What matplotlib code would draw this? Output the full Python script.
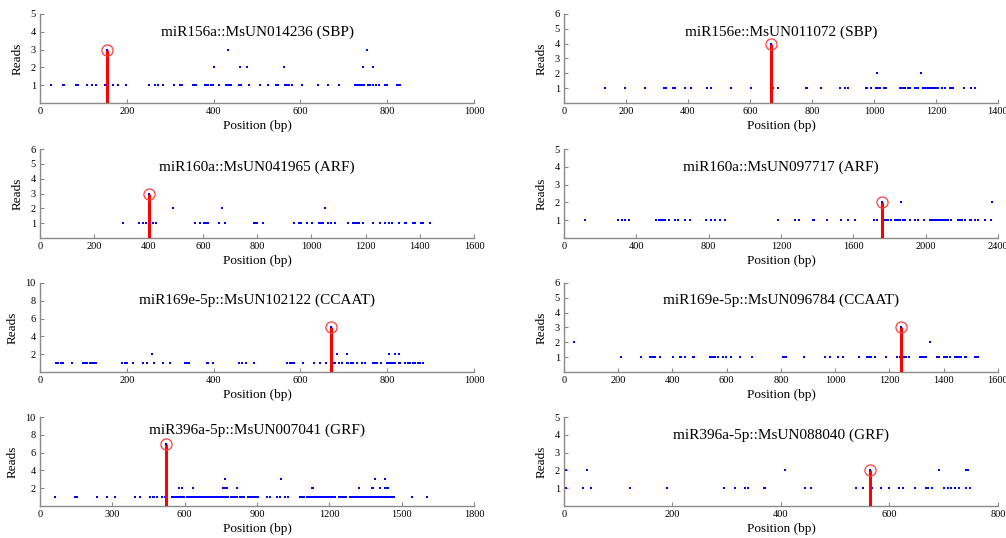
import matplotlib
matplotlib.use("Agg")
import matplotlib.pyplot as plt

plt.rcParams['font.family'] = ['Liberation Serif', 'DejaVu Serif']

# ---------------- data ----------------
titles = ["miR156a::MsUN014236 (SBP)", "miR156e::MsUN011072 (SBP)",
          "miR160a::MsUN041965 (ARF)", "miR160a::MsUN097717 (ARF)",
          "miR169e-5p::MsUN102122 (CCAAT)", "miR169e-5p::MsUN096784 (CCAAT)",
          "miR396a-5p::MsUN007041 (GRF)", "miR396a-5p::MsUN088040 (GRF)"]

# cleavage site (position, reads)
site_pos = [155, 669, 400, 1758, 670, 1244, 523, 565]
site_reads = [3, 4, 3, 2, 5, 3, 7, 2]

xmax = [1000, 1400, 1600, 2400, 1000, 1600, 1800, 800]
xstep = [200, 200, 200, 400, 200, 200, 300, 200]
ymax = [5, 6, 6, 5, 10, 6, 10, 5]
ystep = [1, 1, 1, 1, 2, 1, 2, 1]

# panel 1
p1_r1 = [25, 52, 56, 83, 87, 108, 119, 128, 150, 167, 179, 199, 251, 264, 271, 284,
         309, 323, 328, 352, 356, 360, 380, 384, 388, 393, 399, 412, 429, 432, 436,
         440, 459, 462, 481, 506, 526, 543, 548, 565, 569, 573, 580, 604, 641, 664,
         689, 726, 730, 733, 737, 743, 746, 755, 760, 767, 774, 781, 796, 799, 823,
         827, 829]
p1_r2 = [401, 461, 478, 561, 745, 767]
p1_r3 = [434, 754]

# panel 2
p2_r1 = [133, 198, 260, 323, 328, 352, 358, 389, 411, 461, 475, 540, 604, 675, 690,
         780, 785, 830, 892, 905, 916, 973, 978, 991, 1008, 1013, 1018, 1034, 1040,
         1083, 1088, 1094, 1099, 1110, 1115, 1131, 1137, 1142, 1158, 1163, 1169, 1174,
         1180, 1185, 1190, 1196, 1201, 1206, 1219, 1228, 1244, 1249, 1255, 1290, 1312,
         1327]
p2_r2 = [1010, 1151]

# panel 3
p3_r1 = [307, 365, 381, 389, 418, 428, 571, 590, 604, 612, 620, 660, 682, 789, 796,
         801, 821, 936, 955, 962, 983, 1001, 1029, 1034, 1042, 1063, 1071, 1087, 1136,
         1155, 1161, 1167, 1177, 1192, 1226, 1253, 1271, 1287, 1296, 1324, 1345, 1351,
         1376, 1382, 1403, 1413, 1437]
p3_r2 = [489, 670, 1050]

# panel 4
p4_r1 = [114, 299, 321, 339, 359, 511, 524, 535, 547, 557, 579, 612, 630, 667, 695,
         783, 811, 837, 861, 888, 1183, 1276, 1298, 1377, 1382, 1456, 1534, 1571, 1608,
         1714, 1733, 1770, 1782, 1792, 1810, 1829, 1838, 1847, 1856, 1875, 1884, 1911,
         1939, 1958, 1991, 2022, 2031, 2041, 2050, 2059, 2068, 2077, 2087, 2096, 2105,
         2114, 2124, 2142, 2179, 2188, 2201, 2216, 2243, 2253, 2271, 2289, 2330, 2363]
p4_r2 = [1864, 2367]

# panel 5
p5_r1 = [37, 42, 48, 52, 73, 98, 104, 109, 114, 119, 124, 129, 190, 196, 201, 214,
         237, 246, 263, 284, 300, 334, 338, 344, 384, 388, 399, 459, 465, 475, 493,
         570, 575, 580, 585, 605, 632, 644, 659, 674, 680, 690, 695, 707, 710, 716,
         720, 730, 741, 749, 768, 772, 776, 785, 799, 805, 808, 814, 818, 826, 829,
         841, 849, 853, 860, 864, 872, 876, 883]
p5_r2 = [257, 684, 707, 803, 818, 826]

# panel 6
p6_r1 = [211, 285, 316, 322, 328, 337, 353, 402, 426, 433, 445, 476, 479, 537, 543,
         549, 555, 568, 586, 598, 617, 648, 693, 807, 814, 820, 885, 961, 979, 1010,
         1029, 1088, 1118, 1123, 1131, 1148, 1186, 1229, 1238, 1253, 1262, 1271, 1311,
         1317, 1323, 1330, 1336, 1376, 1381, 1401, 1406, 1413, 1422, 1440, 1446, 1453,
         1459, 1465, 1477, 1483, 1514, 1520, 1526]
p6_r2 = [37, 1351]

# panel 7
p7_r1 = [62, 145, 152, 238, 279, 311, 394, 415, 456, 467, 473, 484, 505, 518,
         548, 556, 563, 571, 580, 588, 596, 609, 617, 624, 632, 640, 647, 655, 663,
         670, 678, 686, 693, 701, 709, 716, 724, 732, 739, 747, 755, 762, 770, 778,
         793, 801, 808, 816, 831, 839, 847, 862, 870, 878, 886, 894, 902,
         940, 954, 981, 995, 1016, 1030,
         1078, 1086, 1094, 1109, 1117, 1124, 1132, 1140, 1147, 1155, 1163, 1170, 1178,
         1186, 1193, 1201, 1209, 1216, 1224, 1239, 1247, 1255, 1262, 1270, 1285, 1293,
         1301, 1308, 1316, 1324, 1331, 1339, 1347, 1354, 1362, 1370, 1377, 1385, 1393,
         1400, 1408, 1416, 1423, 1431, 1439, 1446, 1454, 1462, 1470, 1541, 1603]
p7_r2 = [577, 588, 636, 760, 767, 774, 816, 1127, 1134, 1324, 1376, 1383, 1410, 1431,
         1438, 1445]
p7_r3 = [767, 1000, 1390, 1431]

# panel 8
p8_r1 = [3, 35, 49, 121, 190, 295, 316, 333, 339, 369, 371, 444, 455, 539, 552, 567,
         584, 600, 617, 625, 648, 668, 671, 678, 700, 708, 714, 720, 729, 742, 748]
p8_r2 = [3, 43, 407, 692, 742, 745]

reads_by_panel = [
    {1: p1_r1, 2: p1_r2, 3: p1_r3},
    {1: p2_r1, 2: p2_r2},
    {1: p3_r1, 2: p3_r2},
    {1: p4_r1, 2: p4_r2},
    {1: p5_r1, 2: p5_r2},
    {1: p6_r1, 2: p6_r2},
    {1: p7_r1, 2: p7_r2, 3: p7_r3},
    {1: p8_r1, 2: p8_r2},
]

title_y = [0.80, 0.80, 0.79, 0.79, 0.81, 0.81, 0.85, 0.80]

# ---------------- figure ----------------
fig = plt.figure(figsize=(10.06, 5.38), dpi=100)
lefts = [0.0398, 0.5606]
bottoms = [0.8086, 0.5576, 0.3086, 0.0595]
w, h = 0.4314, 0.1654
gray = '#8a8a8a'

for i in range(8):
    r, c = divmod(i, 2)
    ax = fig.add_axes([lefts[c], bottoms[r], w, h])
    # reads
    for lvl, xs in reads_by_panel[i].items():
        ax.plot(xs, [lvl] * len(xs), linestyle='none', marker='s', ms=1.9,
                mfc='#0000ff', mec='#0000ff', mew=0)
    # cleavage site
    ax.plot([site_pos[i], site_pos[i]], [0, site_reads[i]], color='#ff0000', lw=2.2,
            solid_capstyle='butt', zorder=3)
    ax.plot([site_pos[i]], [site_reads[i]], linestyle='none', marker='s', ms=1.9,
            mfc='#0000ff', mec='#0000ff', mew=0, zorder=4)
    ax.plot([site_pos[i]], [site_reads[i]], linestyle='none', marker='o', ms=8,
            mfc='none', mec='#ff4040', mew=0.9, zorder=5)

    ax.set_xlim(0, xmax[i])
    ax.set_ylim(0, ymax[i])
    ax.set_xticks(list(range(0, xmax[i] + 1, xstep[i])))
    ax.set_yticks(list(range(ystep[i], ymax[i] + 1, ystep[i])))
    for s in ['top', 'right']:
        ax.spines[s].set_visible(False)
    for s in ['left', 'bottom']:
        ax.spines[s].set_color(gray)
        ax.spines[s].set_linewidth(1.0)
    ax.tick_params(direction='in', length=3, width=0.8, color=gray,
                   labelsize=7.5, pad=3, labelcolor='black')
    ax.set_xlabel('Position (bp)', fontsize=9.5, labelpad=3)
    ax.set_ylabel('Reads', fontsize=9.5, labelpad=5)
    ax.text(0.5, title_y[i], titles[i], transform=ax.transAxes, ha='center',
            va='center', fontsize=11)

fig.savefig('out.png', dpi=100)
